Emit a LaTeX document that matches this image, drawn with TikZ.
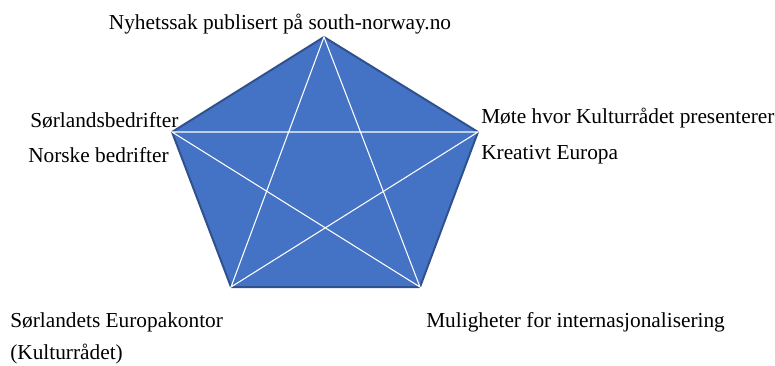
\documentclass[tikz,border=0pt]{standalone}
\usepackage{fontspec}
\setmainfont{Liberation Serif}
\usetikzlibrary{positioning}
\definecolor{fillblue}{HTML}{4472C4}
\definecolor{edgeblue}{HTML}{2F528F}

\begin{document}
\begin{tikzpicture}[x=0.75pt,y=-0.75pt,every node/.style={font=\fontsize{16}{19}\selectfont,inner sep=0pt},tag/.style={anchor=west},chord/.style={draw=white,line width=0.8pt}]
\useasboundingbox (0,0) rectangle (775,365);
\coordinate (top) at (324,37);
\coordinate (right) at (478,132);
\coordinate (bright) at (420,287);
\coordinate (bleft) at (231,287);
\coordinate (left) at (172,132);
\filldraw[fill=fillblue,draw=edgeblue,line width=1.5pt,line join=round] (top)--(right)--(bright)--(bleft)--(left)--cycle;
\draw[chord] (top)--(bleft)--(right)--(left)--(bright)--cycle;
\node (news) at (280,24) {Nyhetssak publisert på south-norway.no};
\node[tag] (sorl) at (30,120) {Sørlandsbedrifter};
\node[tag] (norske) at (28,155) {Norske bedrifter};
\node[tag] (mote) at (481,118) {Møte hvor Kulturrådet presenterer};
\node[tag] (kreativt) at (481,155) {Kreativt Europa};
\node[tag] (kontor) at (10,322) {Sørlandets Europakontor};
\node[tag] (kultur) at (10,354) {(Kulturrådet)};
\node[tag] (muligheter) at (426,322) {Muligheter for internasjonalisering};
\end{tikzpicture}
\end{document}
